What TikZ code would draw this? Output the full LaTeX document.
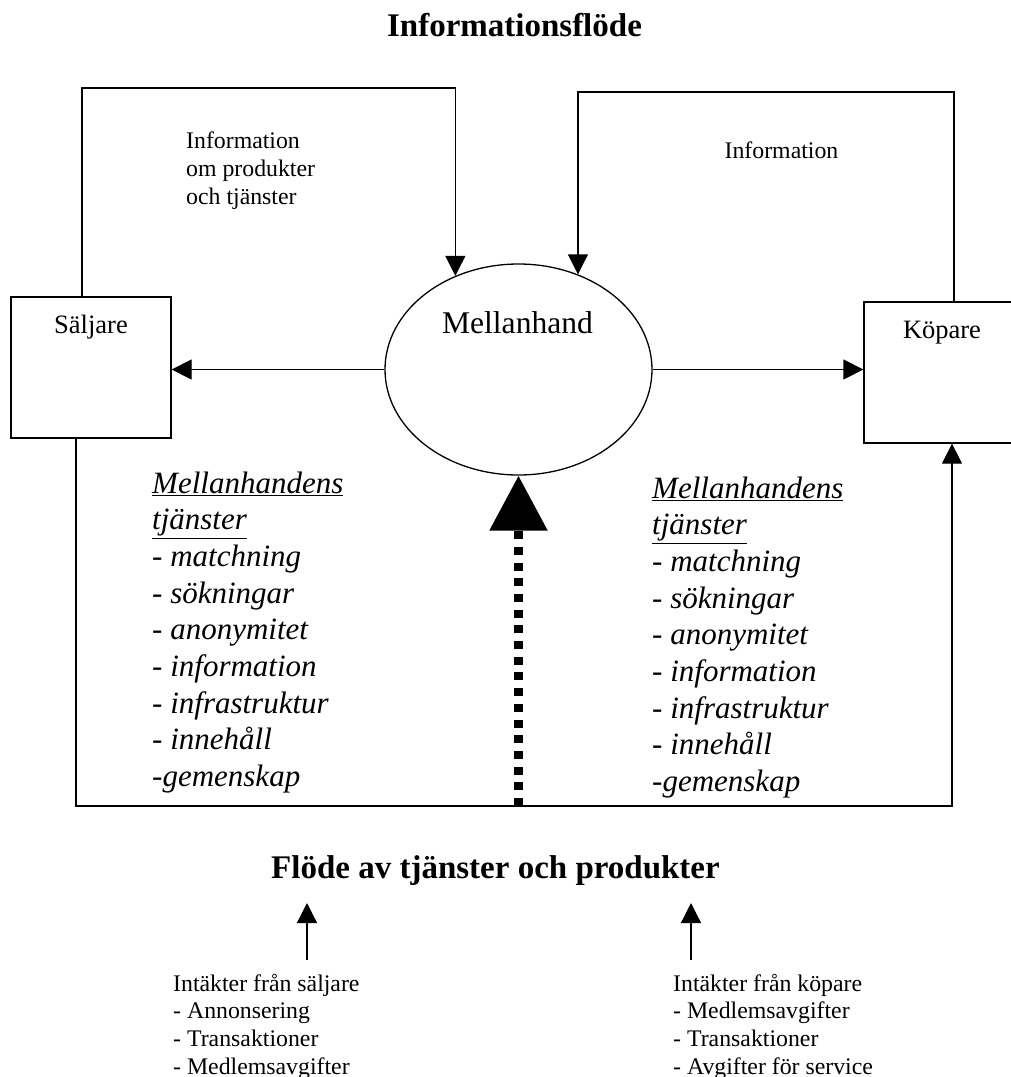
\documentclass[tikz,border=0pt]{standalone}
\usepackage{fontspec}
\setmainfont{Liberation Serif}
\usetikzlibrary{arrows.meta,shapes.geometric,calc}
\tikzset{
  box/.style={draw, line width=1.3pt, rectangle, inner sep=0pt, minimum height=141pt},
  arr/.style={line width=1.3pt, -{Triangle[length=20pt,width=20pt]}},
  dotarr/.style={line width=9pt, dash pattern=on 8pt off 7.7pt, -{Triangle[length=55pt,width=56pt]}},
  lbl/.style={inner sep=0pt, anchor=base, font=\fontsize{26.5}{31}\selectfont},
  small/.style={inner sep=0pt, anchor=base west, align=left, font=\fontsize{23.8}{27.6}\selectfont},
  ital/.style={inner sep=0pt, anchor=base west, align=left, font=\fontsize{31}{36.7}\selectfont\itshape},
  heading/.style={inner sep=0pt, anchor=base, font=\fontsize{33}{40}\selectfont\bfseries}
}
\begin{document}
\begin{tikzpicture}[x=1pt,y=-1pt]
\useasboundingbox (0,0) rectangle (1011,1077);
\clip (0,0) rectangle (1011,1077);

% titles
\node[heading] (title) at (514.5,36) {Informationsflöde};
\node[heading] (flow) at (495.5,878) {Flöde av tjänster och produkter};

% boxes
\node[box, minimum width=160pt] (sal) at (91,367.5) {};
\node[lbl] (salt) at (91,333) {Säljare};
\node[box, minimum width=156pt] (kop) at (942,372.5) {};
\node[lbl] (kopt) at (942,338) {Köpare};
\node[draw, line width=1.3pt, ellipse, inner sep=0pt, minimum width=267pt, minimum height=211pt] (mel) at (518.5,369.5) {};
\node[inner sep=0pt, anchor=base, font=\fontsize{31.6}{36}\selectfont] (melt) at (517.5,333) {Mellanhand};

% information labels (multi-line nodes: base = last line)
\node[small, font=\fontsize{23.8}{28}\selectfont] (infl) at (186,204) {Information\\om produkter\\och tjänster};
\node[inner sep=0pt, anchor=base, font=\fontsize{23.8}{27.8}\selectfont] (infr) at (781.5,158) {Information};

% information flows
\coordinate (yl) at (0,88);
\coordinate (yr) at (0,92);
\draw[arr] ([xshift=-9pt]sal.north) |- (mel.124 |- yl) -- (mel.124);
\draw[arr] ([xshift=12pt]kop.north) |- (mel.58 |- yr) -- (mel.58);

% horizontal arrows
\draw[arr] (mel.west) -- (mel.west -| sal.east);
\draw[arr] (mel.east) -- (mel.east -| kop.west);

% bottom flow
\coordinate (yb) at (0,806);
\draw[arr] ([xshift=-15pt]sal.south) |- (yb -| mel.south) -| ([xshift=10pt]kop.south);
\draw[dotarr] (yb -| mel.south) -- (mel.south);

% service lists
\node[ital] (servl) at (152,786.6) {\underline{Mellanhandens}\\\underline{tjänster}\\- matchning\\- sökningar\\- anonymitet\\- information\\- infrastruktur\\- innehåll\\-gemenskap};
\node[ital] (servr) at (652,791.6) {\underline{Mellanhandens}\\\underline{tjänster}\\- matchning\\- sökningar\\- anonymitet\\- information\\- infrastruktur\\- innehåll\\-gemenskap};

% revenue
\node[small] (revl) at (173,1074) {Intäkter från säljare\\- Annonsering\\- Transaktioner\\- Medlemsavgifter};
\node[small] (revr) at (673,1074) {Intäkter från köpare\\- Medlemsavgifter\\- Transaktioner\\- Avgifter för service};
\coordinate (al0) at (307,960);
\coordinate (al1) at (307,903);
\coordinate (ar0) at (691,960);
\coordinate (ar1) at (691,903);
\draw[arr] (al0) -- (al1);
\draw[arr] (ar0) -- (ar1);
\end{tikzpicture}
\end{document}
